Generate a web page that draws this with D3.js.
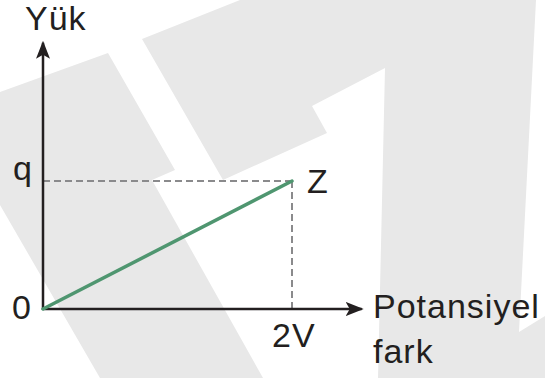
<!DOCTYPE html>
<html>
<head>
<meta charset="utf-8">
<script src="https://cdn.jsdelivr.net/npm/d3@7"></script>
<style>
  body { margin: 0; background: #fff; }
  text { font-family: "Liberation Sans", Arial, sans-serif; fill: #231f20; letter-spacing: 1px; }
</style>
</head>
<body>
<div id="chart"></div>
<script>
// data: potential difference in units of V, charge in units of q
let voltage = [0, 2];
let charge = [0, 1];
let pointLabel = "Z";
let xTickValues = [2];
let xTickLabels = ["2V"];
let yTickValues = [1];
let yTickLabels = ["q"];
let xTitle = ["Potansiyel", "fark"];
let yTitle = "Yük";

let svgWidth = 545;
let svgHeight = 378;

let svg = d3.select("#chart")
    .append("svg")
    .attr("width", svgWidth)
    .attr("height", svgHeight);

// background watermark shapes
let wm = "#e8e8e8";
svg.append("polygon")
    .attr("points", "0,92 108,53 175,170 152,180 263,378 100,378 0,205")
    .attr("fill", wm);
svg.append("polygon")
    .attr("points", "142,39 240,0 536,0 519,332 545,316 545,378 378,378 385,68 312,106 327,133 223,180")
    .attr("fill", wm);

// scales
let x = d3.scaleLinear().domain([0, 2]).range([43, 292]);
let y = d3.scaleLinear().domain([0, 1]).range([309, 181]);

let ink = "#231f20";

// arrow markers
let defs = svg.append("defs");
defs.append("marker")
    .attr("id", "arrow")
    .attr("viewBox", "0 0 18 14")
    .attr("refX", 16)
    .attr("refY", 7)
    .attr("markerWidth", 18)
    .attr("markerHeight", 14)
    .attr("markerUnits", "userSpaceOnUse")
    .attr("orient", "auto")
    .append("path")
    .attr("d", "M0,0 L18,7 L0,14 L4,7 Z")
    .attr("fill", ink);

// dashed guides
let guide = svg.append("g")
    .attr("stroke", "#8a8a8c")
    .attr("stroke-width", 2)
    .attr("stroke-dasharray", "7,4")
    .attr("fill", "none");

guide.append("line")
    .attr("x1", x(0)).attr("y1", y(charge[1]))
    .attr("x2", x(voltage[1])).attr("y2", y(charge[1]));
guide.append("line")
    .attr("x1", x(voltage[1])).attr("y1", y(charge[1]))
    .attr("x2", x(voltage[1])).attr("y2", y(0));

// axes
svg.append("line")
    .attr("x1", x(0)).attr("y1", y(0))
    .attr("x2", x(2.56)).attr("y2", y(0))
    .attr("stroke", ink)
    .attr("stroke-width", 2.5)
    .attr("marker-end", "url(#arrow)");

svg.append("line")
    .attr("x1", x(0)).attr("y1", y(0) + 1)
    .attr("x2", x(0)).attr("y2", y(2.08))
    .attr("stroke", ink)
    .attr("stroke-width", 2.5)
    .attr("marker-end", "url(#arrow)");

// the charge line
let line = d3.line()
    .x((d, i) => x(voltage[i]))
    .y(d => y(d));

svg.append("path")
    .datum(charge)
    .attr("d", line)
    .attr("fill", "none")
    .attr("stroke", "#4f9670")
    .attr("stroke-width", 3.5)
    .attr("stroke-linecap", "round");

// labels
let fs = 34;

svg.append("text")
    .attr("x", 25).attr("y", 30)
    .attr("font-size", fs)
    .text(yTitle);

svg.selectAll(".ylab")
    .data(yTickValues)
    .enter()
    .append("text")
    .attr("class", "ylab")
    .attr("x", 13)
    .attr("y", d => y(d) - 1)
    .attr("font-size", fs)
    .text((d, i) => yTickLabels[i]);

svg.append("text")
    .attr("x", 12).attr("y", y(0) + 10)
    .attr("font-size", fs)
    .text("0");

svg.selectAll(".xlab")
    .data(xTickValues)
    .enter()
    .append("text")
    .attr("class", "xlab")
    .attr("x", d => x(d) - 20)
    .attr("y", y(0) + 38)
    .attr("font-size", fs)
    .text((d, i) => xTickLabels[i]);

svg.append("text")
    .attr("x", x(voltage[1]) + 15)
    .attr("y", y(charge[1]) + 12)
    .attr("font-size", fs)
    .text(pointLabel);

svg.append("text")
    .attr("x", 373).attr("y", 318)
    .attr("font-size", fs)
    .text(xTitle[0]);
svg.append("text")
    .attr("x", 373).attr("y", 363)
    .attr("font-size", fs)
    .text(xTitle[1]);
</script>
</body>
</html>
